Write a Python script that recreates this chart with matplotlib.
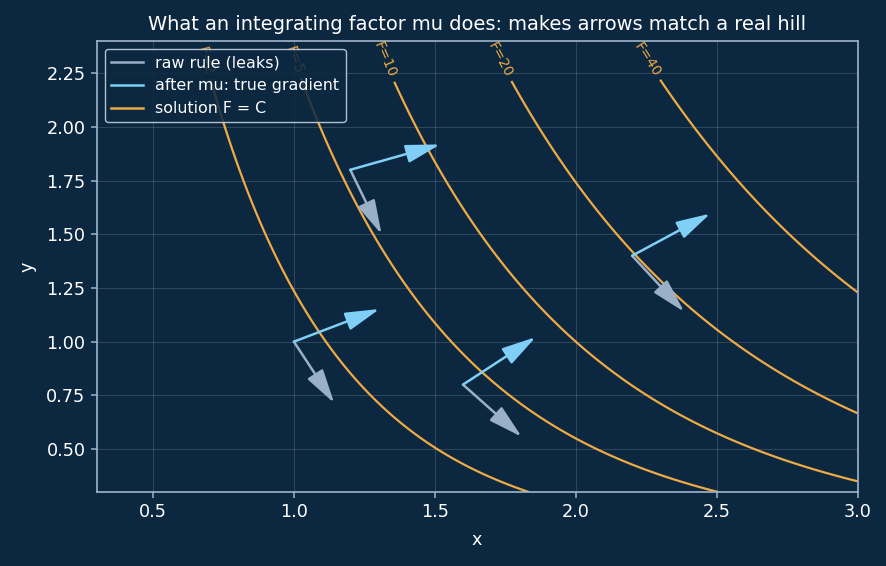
import matplotlib
matplotlib.use("Agg")
import matplotlib.pyplot as plt
import numpy as np

# level values of the solution F = x^3 y + x^2 y^2 / 2
levels = [2, 5, 10, 20, 40]
label_pos = [(0.69, 2.31), (1.0, 2.31), (1.32, 2.31), (1.73, 2.31), (2.25, 2.31)]

# arrow base points
px = [1.0, 1.2, 1.6, 2.2]
py = [1.0, 1.8, 0.8, 1.4]

bg = "#0c2740"
raw_col = "#9ab0c8"
true_col = "#7fcff7"
sol_col = "#eeaa45"
spine_col = "#9fb5cc"
s = 1.27  # font scale

def F(x, y):
    return x**3 * y + x**2 * y**2 / 2

fig = plt.figure(figsize=(8.86, 5.66), dpi=100, facecolor=bg)
ax = fig.add_axes([0.109, 0.1307, 0.859, 0.797], facecolor=bg)

xs = np.linspace(0.3, 3.0, 400)
ys = np.linspace(0.3, 2.4, 400)
X, Y = np.meshgrid(xs, ys)
cs = ax.contour(X, Y, F(X, Y), levels=levels, colors=sol_col, linewidths=1.6, zorder=2)
ax.clabel(cs, fmt="F=%g", fontsize=8 * s, colors=sol_col, manual=label_pos, inline=True)

head = "-|>,head_length=0.75,head_width=0.2"
for x0, y0 in zip(px, py):
    # raw rule (M, N) drawn along (N, -M)
    M = 3 * x0 * y0 + y0**2
    N = x0**2 + x0 * y0
    r = np.array([N, -M])
    r = r / np.hypot(*r) * 0.32
    ax.annotate("", xy=(x0 + r[0], y0 + r[1]), xytext=(x0, y0),
                arrowprops=dict(arrowstyle=head, color=raw_col, lw=1.8,
                                mutation_scale=28, shrinkA=0, shrinkB=0), zorder=3)
    # after mu = x: true gradient
    g = np.array([x0 * M, x0 * N])
    g = g / np.hypot(*g) * 0.34
    ax.annotate("", xy=(x0 + g[0], y0 + g[1]), xytext=(x0, y0),
                arrowprops=dict(arrowstyle=head, color=true_col, lw=1.8,
                                mutation_scale=28, shrinkA=0, shrinkB=0), zorder=4)

ax.set_xlim(0.3, 3.0)
ax.set_ylim(0.3, 2.4)
ax.set_xticks([0.5, 1.0, 1.5, 2.0, 2.5, 3.0])
ax.set_yticks([0.5, 0.75, 1.0, 1.25, 1.5, 1.75, 2.0, 2.25])
ax.grid(True, color="white", alpha=0.15, lw=0.7)
for sp in ax.spines.values():
    sp.set_color(spine_col)
    sp.set_linewidth(1.2)
ax.tick_params(colors=spine_col, labelcolor="white", labelsize=10 * s,
               length=4.5, width=1.1)
ax.set_xlabel("x", color="white", fontsize=10 * s, labelpad=7)
ax.set_ylabel("y", color="white", fontsize=10 * s, labelpad=7)
ax.set_title("What an integrating factor mu does: makes arrows match a real hill",
             color="white", fontsize=11 * s, pad=8)

ax.plot([], [], color=raw_col, lw=1.8, label="raw rule (leaks)")
ax.plot([], [], color=true_col, lw=1.8, label="after mu: true gradient")
ax.plot([], [], color=sol_col, lw=1.8, label="solution F = C")
leg = ax.legend(loc="upper left", fontsize=9 * s, facecolor=bg, edgecolor="#d0dbe6",
                framealpha=0.85, labelcolor="white")
leg.set_zorder(5)

fig.savefig("out.png", dpi=100, facecolor=bg)
